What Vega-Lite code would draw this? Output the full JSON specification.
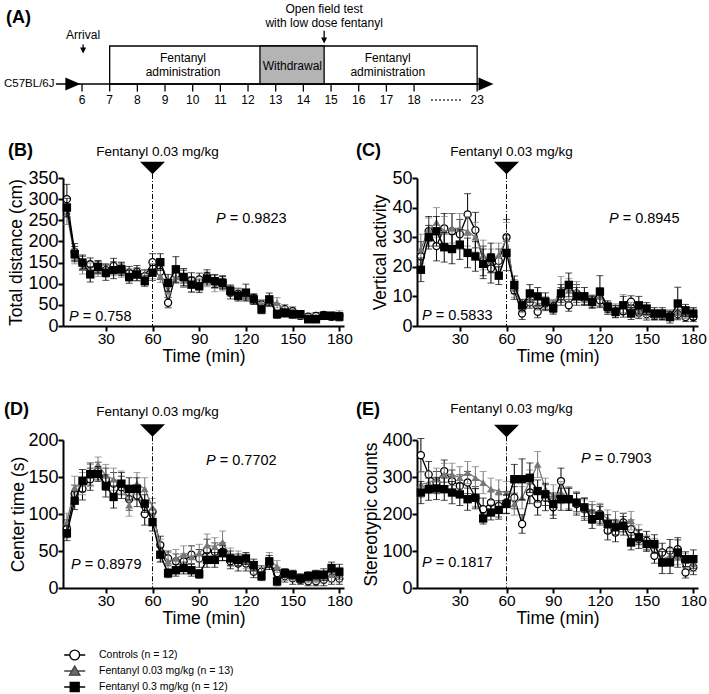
{
"$schema":"https://vega.github.io/schema/vega-lite/v6.json",
"background":"white",
"padding":{"left":3,"top":0,"right":0,"bottom":0},
"columns":2,
"spacing":{"row":114,"column":73},
"bounds":"flush",
"align":"each",
"config":{
"view":{"stroke":null},
"font":"Liberation Sans",
"axis":{"domainColor":"black","domainWidth":2,"tickColor":"black","tickWidth":2,"tickSize":5,"labelColor":"black","titleColor":"black","labelFont":"Liberation Sans","titleFont":"Liberation Sans","titleFontWeight":"normal","grid":false,"labelPadding":0,"labelFlush":false,"labelOverlap":false},
"axisX":{"labelFontSize":15.5,"titleFontSize":17.5,"titlePadding":1,"titleFontWeight":"normal"},
"axisY":{"labelFontSize":18,"titleFontSize":17.5,"titleFontWeight":"normal"},
"text":{"font":"Liberation Sans","color":"black"}
},
"datasets":{
"a":[
{"k":"box","x":7,"x2":20.28,"y":0,"y2":1},
{"k":"wd","x":12.43,"x2":14.75,"y":0,"y2":1},
{"k":"ln","x":5.06,"x2":20.5,"y":0,"y2":0},
{"k":"ln","x":6,"x2":6,"y":0,"y2":-0.2},
{"k":"ln","x":7,"x2":7,"y":0,"y2":-0.2},
{"k":"ln","x":8,"x2":8,"y":0,"y2":-0.2},
{"k":"ln","x":9,"x2":9,"y":0,"y2":-0.2},
{"k":"ln","x":10,"x2":10,"y":0,"y2":-0.2},
{"k":"ln","x":11,"x2":11,"y":0,"y2":-0.2},
{"k":"ln","x":12,"x2":12,"y":0,"y2":-0.2},
{"k":"ln","x":13,"x2":13,"y":0,"y2":-0.2},
{"k":"ln","x":14,"x2":14,"y":0,"y2":-0.2},
{"k":"ln","x":15,"x2":15,"y":0,"y2":-0.2},
{"k":"ln","x":16,"x2":16,"y":0,"y2":-0.2},
{"k":"ln","x":17,"x2":17,"y":0,"y2":-0.2},
{"k":"ln","x":18,"x2":18,"y":0,"y2":-0.2},
{"k":"ln","x":20.28,"x2":20.28,"y":0,"y2":-0.2},
{"k":"ln","x":6.04,"x2":6.04,"y":1.04,"y2":0.9},
{"k":"ln","x":14.75,"x2":14.75,"y":1.4,"y2":1.16},
{"k":"dt","x":18.62,"x2":19.7,"y":-0.421,"y2":-0.421},
{"k":"ah","x":6.04,"y":0.882},
{"k":"ah","x":14.75,"y":1.145},
{"k":"big","x":5.67,"y":0},
{"k":"big","x":20.6,"y":0},
{"k":"tc","x":6,"y":-0.421,"s":"6"},
{"k":"tc","x":7,"y":-0.421,"s":"7"},
{"k":"tc","x":8,"y":-0.421,"s":"8"},
{"k":"tc","x":9,"y":-0.421,"s":"9"},
{"k":"tc","x":10,"y":-0.421,"s":"10"},
{"k":"tc","x":11,"y":-0.421,"s":"11"},
{"k":"tc","x":12,"y":-0.421,"s":"12"},
{"k":"tc","x":13,"y":-0.421,"s":"13"},
{"k":"tc","x":14,"y":-0.421,"s":"14"},
{"k":"tc","x":15,"y":-0.421,"s":"15"},
{"k":"tc","x":16,"y":-0.421,"s":"16"},
{"k":"tc","x":17,"y":-0.421,"s":"17"},
{"k":"tc","x":18,"y":-0.421,"s":"18"},
{"k":"tc","x":20.28,"y":-0.421,"s":"23"},
{"k":"tc","x":6.04,"y":1.29,"s":"Arrival"},
{"k":"tc","x":14.75,"y":1.961,"s":"Open field test"},
{"k":"tc","x":14.75,"y":1.618,"s":"with low dose fentanyl"},
{"k":"tc","x":9.65,"y":0.684,"s":"Fentanyl"},
{"k":"tc","x":9.65,"y":0.316,"s":"administration"},
{"k":"tc","x":17.05,"y":0.684,"s":"Fentanyl"},
{"k":"tc","x":17.05,"y":0.316,"s":"administration"},
{"k":"tc","x":13.6,"y":0.474,"s":"Withdrawal"},
{"k":"tl","x":3.18,"y":0,"s":"C57BL/6J"},
{"k":"tb","x":3.253,"y":1.737,"s":"(A)"}
],
"ann":[
{"p":"B","k":"lbl","t":-32.8,"m":413.8,"s":"(B)"},
{"p":"B","k":"fen","t":60,"m":411,"s":"Fentanyl 0.03 mg/kg"},
{"p":"B","k":"tri","t":60,"m":373.6},
{"p":"B","k":"rule","t":60,"m":359.5,"m2":0},
{"p":"B","k":"p","t":100.8,"m":253,"s":"= 0.9823"},
{"p":"B","k":"p","t":6.35,"m":21.3,"s":"= 0.758"},
{"p":"C","k":"lbl","t":-36.7,"m":59.1,"s":"(C)"},
{"p":"C","k":"fen","t":60,"m":58.7,"s":"Fentanyl 0.03 mg/kg"},
{"p":"C","k":"tri","t":60,"m":53.38},
{"p":"C","k":"rule","t":60,"m":51.35,"m2":0},
{"p":"C","k":"p","t":125.8,"m":36.15,"s":"= 0.8945"},
{"p":"C","k":"p","t":5.7,"m":3.3,"s":"= 0.5833"},
{"p":"D","k":"lbl","t":-35.4,"m":239.9,"s":"(D)"},
{"p":"D","k":"fen","t":60,"m":237.4,"s":"Fentanyl 0.03 mg/kg"},
{"p":"D","k":"tri","t":60,"m":212.8},
{"p":"D","k":"rule","t":60,"m":205,"m2":0},
{"p":"D","k":"p","t":94.4,"m":171.2,"s":"= 0.7702"},
{"p":"D","k":"p","t":7.6,"m":31.5,"s":"= 0.8979"},
{"p":"E","k":"lbl","t":-36.7,"m":482.4,"s":"(E)"},
{"p":"E","k":"fen","t":60,"m":483.8,"s":"Fentanyl 0.03 mg/kg"},
{"p":"E","k":"tri","t":60,"m":424.3},
{"p":"E","k":"rule","t":60,"m":410,"m2":0},
{"p":"E","k":"p","t":107.8,"m":348.6,"s":"= 0.7903"},
{"p":"E","k":"p","t":5.7,"m":67.6,"s":"= 0.1817"}
],
"lg":[
{"g2":"Controls (n = 12)","t":100,"m":100},
{"g2":"Fentanyl 0.03 mg/kg (n = 13)","t":100,"m":100},
{"g2":"Fentanyl 0.3 mg/kg (n = 12)","t":100,"m":100}
],
"B":[
{"g":"c","t":5,"m":300,"e":35},{"g":"c","t":10,"m":175,"e":20},{"g":"c","t":15,"m":150,"e":18},{"g":"c","t":20,"m":146,"e":15},{"g":"c","t":25,"m":138,"e":15},{"g":"c","t":30,"m":132,"e":15},{"g":"c","t":35,"m":142,"e":18},{"g":"c","t":40,"m":136,"e":15},{"g":"c","t":45,"m":126,"e":15},{"g":"c","t":50,"m":128,"e":15},{"g":"c","t":55,"m":118,"e":15},{"g":"c","t":60,"m":151,"e":20},{"g":"c","t":65,"m":128,"e":18},{"g":"c","t":70,"m":55,"e":12},{"g":"c","t":75,"m":122,"e":20},{"g":"c","t":80,"m":112,"e":20},{"g":"c","t":85,"m":108,"e":18},{"g":"c","t":90,"m":110,"e":15},{"g":"c","t":95,"m":118,"e":15},{"g":"c","t":100,"m":106,"e":15},{"g":"c","t":105,"m":104,"e":15},{"g":"c","t":110,"m":79,"e":15},{"g":"c","t":115,"m":76,"e":12},{"g":"c","t":120,"m":74,"e":12},{"g":"c","t":125,"m":66,"e":10},{"g":"c","t":130,"m":51,"e":10},{"g":"c","t":135,"m":58,"e":12},{"g":"c","t":140,"m":43,"e":10},{"g":"c","t":145,"m":40,"e":10},{"g":"c","t":150,"m":35,"e":10},{"g":"c","t":155,"m":24,"e":8},{"g":"c","t":160,"m":22,"e":8},{"g":"c","t":165,"m":24,"e":8},{"g":"c","t":170,"m":26,"e":8},{"g":"c","t":175,"m":22,"e":8},{"g":"c","t":180,"m":24,"e":8},
{"g":"a","t":5,"m":265,"e":25},{"g":"a","t":10,"m":165,"e":18},{"g":"a","t":15,"m":138,"e":15},{"g":"a","t":20,"m":134,"e":15},{"g":"a","t":25,"m":132,"e":15},{"g":"a","t":30,"m":130,"e":15},{"g":"a","t":35,"m":134,"e":15},{"g":"a","t":40,"m":130,"e":15},{"g":"a","t":45,"m":120,"e":15},{"g":"a","t":50,"m":122,"e":15},{"g":"a","t":55,"m":116,"e":15},{"g":"a","t":60,"m":130,"e":18},{"g":"a","t":65,"m":118,"e":15},{"g":"a","t":70,"m":83,"e":15},{"g":"a","t":75,"m":116,"e":15},{"g":"a","t":80,"m":108,"e":15},{"g":"a","t":85,"m":96,"e":15},{"g":"a","t":90,"m":98,"e":15},{"g":"a","t":95,"m":108,"e":15},{"g":"a","t":100,"m":96,"e":15},{"g":"a","t":105,"m":98,"e":15},{"g":"a","t":110,"m":86,"e":12},{"g":"a","t":115,"m":78,"e":12},{"g":"a","t":120,"m":72,"e":12},{"g":"a","t":125,"m":62,"e":10},{"g":"a","t":130,"m":52,"e":10},{"g":"a","t":135,"m":56,"e":10},{"g":"a","t":140,"m":55,"e":12},{"g":"a","t":145,"m":36,"e":10},{"g":"a","t":150,"m":30,"e":8},{"g":"a","t":155,"m":26,"e":8},{"g":"a","t":160,"m":20,"e":8},{"g":"a","t":165,"m":20,"e":8},{"g":"a","t":170,"m":24,"e":8},{"g":"a","t":175,"m":26,"e":8},{"g":"a","t":180,"m":28,"e":8},
{"g":"s","t":5,"m":280,"e":22},{"g":"s","t":10,"m":170,"e":18},{"g":"s","t":15,"m":150,"e":15},{"g":"s","t":20,"m":122,"e":18},{"g":"s","t":25,"m":140,"e":15},{"g":"s","t":30,"m":126,"e":18},{"g":"s","t":35,"m":132,"e":20},{"g":"s","t":40,"m":134,"e":15},{"g":"s","t":45,"m":116,"e":15},{"g":"s","t":50,"m":122,"e":15},{"g":"s","t":55,"m":106,"e":12},{"g":"s","t":60,"m":126,"e":18},{"g":"s","t":65,"m":151,"e":20},{"g":"s","t":70,"m":102,"e":20},{"g":"s","t":75,"m":134,"e":30},{"g":"s","t":80,"m":116,"e":20},{"g":"s","t":85,"m":98,"e":18},{"g":"s","t":90,"m":94,"e":15},{"g":"s","t":95,"m":112,"e":15},{"g":"s","t":100,"m":106,"e":15},{"g":"s","t":105,"m":102,"e":15},{"g":"s","t":110,"m":83,"e":12},{"g":"s","t":115,"m":71,"e":12},{"g":"s","t":120,"m":79,"e":20},{"g":"s","t":125,"m":63,"e":12},{"g":"s","t":130,"m":39,"e":10},{"g":"s","t":135,"m":63,"e":15},{"g":"s","t":140,"m":28,"e":10},{"g":"s","t":145,"m":31,"e":10},{"g":"s","t":150,"m":28,"e":10},{"g":"s","t":155,"m":28,"e":8},{"g":"s","t":160,"m":16,"e":8},{"g":"s","t":165,"m":16,"e":8},{"g":"s","t":170,"m":24,"e":8},{"g":"s","t":175,"m":24,"e":8},{"g":"s","t":180,"m":22,"e":10}
],
"C":[
{"g":"c","t":5,"m":23.5,"e":5},{"g":"c","t":10,"m":32,"e":5},{"g":"c","t":15,"m":27,"e":5},{"g":"c","t":20,"m":33,"e":5},{"g":"c","t":25,"m":32,"e":6},{"g":"c","t":30,"m":31,"e":5},{"g":"c","t":35,"m":37.7,"e":7},{"g":"c","t":40,"m":32.4,"e":6},{"g":"c","t":45,"m":22,"e":5},{"g":"c","t":50,"m":19.5,"e":5},{"g":"c","t":55,"m":22,"e":4},{"g":"c","t":60,"m":30,"e":6},{"g":"c","t":65,"m":12,"e":3},{"g":"c","t":70,"m":4.2,"e":2},{"g":"c","t":75,"m":8,"e":2},{"g":"c","t":80,"m":4.8,"e":2},{"g":"c","t":85,"m":7.6,"e":2},{"g":"c","t":90,"m":6.5,"e":2},{"g":"c","t":95,"m":10,"e":3},{"g":"c","t":100,"m":7,"e":2},{"g":"c","t":105,"m":11,"e":3},{"g":"c","t":110,"m":9.3,"e":2},{"g":"c","t":115,"m":8,"e":2},{"g":"c","t":120,"m":8.7,"e":2},{"g":"c","t":125,"m":5.9,"e":2},{"g":"c","t":130,"m":5,"e":2},{"g":"c","t":135,"m":5,"e":2},{"g":"c","t":140,"m":8.2,"e":2},{"g":"c","t":145,"m":4.5,"e":2},{"g":"c","t":150,"m":4,"e":2},{"g":"c","t":155,"m":3.5,"e":1.5},{"g":"c","t":160,"m":3.5,"e":1.5},{"g":"c","t":165,"m":3.5,"e":1.5},{"g":"c","t":170,"m":4,"e":1.5},{"g":"c","t":175,"m":3,"e":1.5},{"g":"c","t":180,"m":3,"e":1.5},
{"g":"a","t":5,"m":26,"e":5},{"g":"a","t":10,"m":32.5,"e":4},{"g":"a","t":15,"m":35,"e":5},{"g":"a","t":20,"m":32,"e":5},{"g":"a","t":25,"m":33,"e":5},{"g":"a","t":30,"m":33,"e":5},{"g":"a","t":35,"m":32,"e":5},{"g":"a","t":40,"m":30,"e":5},{"g":"a","t":45,"m":24,"e":5},{"g":"a","t":50,"m":22,"e":4},{"g":"a","t":55,"m":24,"e":4},{"g":"a","t":60,"m":29.5,"e":5.5},{"g":"a","t":65,"m":12.7,"e":3},{"g":"a","t":70,"m":6.5,"e":2},{"g":"a","t":75,"m":9,"e":2},{"g":"a","t":80,"m":7.4,"e":2},{"g":"a","t":85,"m":8,"e":2},{"g":"a","t":90,"m":7,"e":2},{"g":"a","t":95,"m":12.7,"e":4},{"g":"a","t":100,"m":12,"e":4},{"g":"a","t":105,"m":12,"e":3},{"g":"a","t":110,"m":9,"e":2},{"g":"a","t":115,"m":8.5,"e":2},{"g":"a","t":120,"m":10,"e":3},{"g":"a","t":125,"m":6,"e":2},{"g":"a","t":130,"m":5.5,"e":2},{"g":"a","t":135,"m":7.6,"e":3},{"g":"a","t":140,"m":6,"e":2},{"g":"a","t":145,"m":5,"e":2},{"g":"a","t":150,"m":4.5,"e":2},{"g":"a","t":155,"m":4,"e":1.5},{"g":"a","t":160,"m":4,"e":1.5},{"g":"a","t":165,"m":4,"e":1.5},{"g":"a","t":170,"m":4.5,"e":2},{"g":"a","t":175,"m":4,"e":1.5},{"g":"a","t":180,"m":4.5,"e":1.5},
{"g":"s","t":5,"m":19,"e":4},{"g":"s","t":10,"m":30,"e":4},{"g":"s","t":15,"m":32,"e":5},{"g":"s","t":20,"m":26.6,"e":5},{"g":"s","t":25,"m":26,"e":5},{"g":"s","t":30,"m":27.5,"e":5},{"g":"s","t":35,"m":24.7,"e":5},{"g":"s","t":40,"m":23.5,"e":5},{"g":"s","t":45,"m":21,"e":5},{"g":"s","t":50,"m":23,"e":5},{"g":"s","t":55,"m":17,"e":3},{"g":"s","t":60,"m":24.7,"e":6},{"g":"s","t":65,"m":13.9,"e":3},{"g":"s","t":70,"m":7,"e":2},{"g":"s","t":75,"m":11,"e":3},{"g":"s","t":80,"m":10,"e":3},{"g":"s","t":85,"m":8.2,"e":3},{"g":"s","t":90,"m":6,"e":2},{"g":"s","t":95,"m":11,"e":3},{"g":"s","t":100,"m":13.9,"e":4},{"g":"s","t":105,"m":10,"e":3},{"g":"s","t":110,"m":10,"e":3},{"g":"s","t":115,"m":8.2,"e":2},{"g":"s","t":120,"m":11.6,"e":5.4},{"g":"s","t":125,"m":6.5,"e":2},{"g":"s","t":130,"m":4.8,"e":2},{"g":"s","t":135,"m":7,"e":3},{"g":"s","t":140,"m":4.2,"e":2},{"g":"s","t":145,"m":7,"e":3},{"g":"s","t":150,"m":5.9,"e":2},{"g":"s","t":155,"m":4.2,"e":2},{"g":"s","t":160,"m":4.2,"e":2},{"g":"s","t":165,"m":3,"e":2},{"g":"s","t":170,"m":7.6,"e":5.5},{"g":"s","t":175,"m":5.3,"e":2},{"g":"s","t":180,"m":4.2,"e":2}
],
"D":[
{"g":"c","t":5,"m":80,"e":12},{"g":"c","t":10,"m":127,"e":12},{"g":"c","t":15,"m":134,"e":15},{"g":"c","t":20,"m":147,"e":15},{"g":"c","t":25,"m":158,"e":12},{"g":"c","t":30,"m":147,"e":15},{"g":"c","t":35,"m":141,"e":15},{"g":"c","t":40,"m":136,"e":15},{"g":"c","t":45,"m":120,"e":15},{"g":"c","t":50,"m":125,"e":15},{"g":"c","t":55,"m":100,"e":15},{"g":"c","t":60,"m":103,"e":12},{"g":"c","t":65,"m":58,"e":12},{"g":"c","t":70,"m":40,"e":10},{"g":"c","t":75,"m":36,"e":10},{"g":"c","t":80,"m":36,"e":10},{"g":"c","t":85,"m":45,"e":12},{"g":"c","t":90,"m":40,"e":12},{"g":"c","t":95,"m":51,"e":15},{"g":"c","t":100,"m":49,"e":12},{"g":"c","t":105,"m":49,"e":12},{"g":"c","t":110,"m":36,"e":10},{"g":"c","t":115,"m":33,"e":10},{"g":"c","t":120,"m":33,"e":10},{"g":"c","t":125,"m":22,"e":8},{"g":"c","t":130,"m":22,"e":8},{"g":"c","t":135,"m":33,"e":8},{"g":"c","t":140,"m":20,"e":8},{"g":"c","t":145,"m":16,"e":8},{"g":"c","t":150,"m":13,"e":8},{"g":"c","t":155,"m":11,"e":6},{"g":"c","t":160,"m":9,"e":6},{"g":"c","t":165,"m":9,"e":6},{"g":"c","t":170,"m":11,"e":8},{"g":"c","t":175,"m":13,"e":8},{"g":"c","t":180,"m":13,"e":8},
{"g":"a","t":5,"m":89,"e":12},{"g":"a","t":10,"m":136,"e":15},{"g":"a","t":15,"m":141,"e":15},{"g":"a","t":20,"m":152,"e":15},{"g":"a","t":25,"m":167,"e":10},{"g":"a","t":30,"m":152,"e":15},{"g":"a","t":35,"m":147,"e":15},{"g":"a","t":40,"m":143,"e":15},{"g":"a","t":45,"m":112,"e":15},{"g":"a","t":50,"m":141,"e":15},{"g":"a","t":55,"m":134,"e":15},{"g":"a","t":60,"m":109,"e":12},{"g":"a","t":65,"m":51,"e":15},{"g":"a","t":70,"m":36,"e":12},{"g":"a","t":75,"m":40,"e":12},{"g":"a","t":80,"m":45,"e":12},{"g":"a","t":85,"m":42,"e":15},{"g":"a","t":90,"m":47,"e":12},{"g":"a","t":95,"m":58,"e":15},{"g":"a","t":100,"m":56,"e":12},{"g":"a","t":105,"m":62,"e":15},{"g":"a","t":110,"m":42,"e":12},{"g":"a","t":115,"m":40,"e":10},{"g":"a","t":120,"m":36,"e":10},{"g":"a","t":125,"m":27,"e":8},{"g":"a","t":130,"m":20,"e":8},{"g":"a","t":135,"m":38,"e":10},{"g":"a","t":140,"m":29,"e":8},{"g":"a","t":145,"m":18,"e":8},{"g":"a","t":150,"m":16,"e":6},{"g":"a","t":155,"m":13,"e":6},{"g":"a","t":160,"m":13,"e":6},{"g":"a","t":165,"m":13,"e":6},{"g":"a","t":170,"m":15,"e":8},{"g":"a","t":175,"m":18,"e":10},{"g":"a","t":180,"m":18,"e":10},
{"g":"s","t":5,"m":74,"e":10},{"g":"s","t":10,"m":118,"e":12},{"g":"s","t":15,"m":145,"e":15},{"g":"s","t":20,"m":154,"e":15},{"g":"s","t":25,"m":154,"e":10},{"g":"s","t":30,"m":138,"e":15},{"g":"s","t":35,"m":123,"e":15},{"g":"s","t":40,"m":141,"e":15},{"g":"s","t":45,"m":134,"e":15},{"g":"s","t":50,"m":134,"e":15},{"g":"s","t":55,"m":114,"e":12},{"g":"s","t":60,"m":89,"e":12},{"g":"s","t":65,"m":45,"e":10},{"g":"s","t":70,"m":20,"e":6},{"g":"s","t":75,"m":24,"e":8},{"g":"s","t":80,"m":27,"e":8},{"g":"s","t":85,"m":24,"e":8},{"g":"s","t":90,"m":19,"e":6},{"g":"s","t":95,"m":38,"e":10},{"g":"s","t":100,"m":38,"e":10},{"g":"s","t":105,"m":47,"e":10},{"g":"s","t":110,"m":40,"e":10},{"g":"s","t":115,"m":38,"e":8},{"g":"s","t":120,"m":40,"e":8},{"g":"s","t":125,"m":31,"e":8},{"g":"s","t":130,"m":16,"e":6},{"g":"s","t":135,"m":36,"e":8},{"g":"s","t":140,"m":9,"e":6},{"g":"s","t":145,"m":20,"e":6},{"g":"s","t":150,"m":18,"e":6},{"g":"s","t":155,"m":13,"e":6},{"g":"s","t":160,"m":16,"e":6},{"g":"s","t":165,"m":18,"e":6},{"g":"s","t":170,"m":18,"e":8},{"g":"s","t":175,"m":27,"e":8},{"g":"s","t":180,"m":22,"e":10}
],
"E":[
{"g":"c","t":5,"m":359,"e":45},{"g":"c","t":10,"m":307,"e":35},{"g":"c","t":15,"m":285,"e":30},{"g":"c","t":20,"m":316,"e":30},{"g":"c","t":25,"m":289,"e":30},{"g":"c","t":30,"m":276,"e":30},{"g":"c","t":35,"m":285,"e":30},{"g":"c","t":40,"m":244,"e":30},{"g":"c","t":45,"m":213,"e":30},{"g":"c","t":50,"m":231,"e":30},{"g":"c","t":55,"m":222,"e":30},{"g":"c","t":60,"m":231,"e":30},{"g":"c","t":65,"m":244,"e":30},{"g":"c","t":70,"m":173,"e":25},{"g":"c","t":75,"m":258,"e":30},{"g":"c","t":80,"m":227,"e":30},{"g":"c","t":85,"m":244,"e":35},{"g":"c","t":90,"m":218,"e":30},{"g":"c","t":95,"m":289,"e":35},{"g":"c","t":100,"m":240,"e":30},{"g":"c","t":105,"m":227,"e":30},{"g":"c","t":110,"m":213,"e":30},{"g":"c","t":115,"m":200,"e":25},{"g":"c","t":120,"m":200,"e":25},{"g":"c","t":125,"m":155,"e":25},{"g":"c","t":130,"m":150,"e":25},{"g":"c","t":135,"m":177,"e":25},{"g":"c","t":140,"m":159,"e":25},{"g":"c","t":145,"m":132,"e":25},{"g":"c","t":150,"m":128,"e":25},{"g":"c","t":155,"m":87,"e":20},{"g":"c","t":160,"m":96,"e":25},{"g":"c","t":165,"m":101,"e":30},{"g":"c","t":170,"m":105,"e":25},{"g":"c","t":175,"m":42,"e":15},{"g":"c","t":180,"m":56,"e":20},
{"g":"a","t":5,"m":280,"e":35},{"g":"a","t":10,"m":285,"e":30},{"g":"a","t":15,"m":294,"e":30},{"g":"a","t":20,"m":307,"e":30},{"g":"a","t":25,"m":307,"e":30},{"g":"a","t":30,"m":298,"e":30},{"g":"a","t":35,"m":312,"e":30},{"g":"a","t":40,"m":298,"e":30},{"g":"a","t":45,"m":285,"e":30},{"g":"a","t":50,"m":267,"e":30},{"g":"a","t":55,"m":262,"e":30},{"g":"a","t":60,"m":258,"e":30},{"g":"a","t":65,"m":227,"e":30},{"g":"a","t":70,"m":244,"e":30},{"g":"a","t":75,"m":289,"e":30},{"g":"a","t":80,"m":334,"e":35},{"g":"a","t":85,"m":267,"e":30},{"g":"a","t":90,"m":249,"e":30},{"g":"a","t":95,"m":258,"e":30},{"g":"a","t":100,"m":244,"e":30},{"g":"a","t":105,"m":231,"e":30},{"g":"a","t":110,"m":213,"e":25},{"g":"a","t":115,"m":209,"e":25},{"g":"a","t":120,"m":204,"e":25},{"g":"a","t":125,"m":186,"e":25},{"g":"a","t":130,"m":182,"e":25},{"g":"a","t":135,"m":177,"e":25},{"g":"a","t":140,"m":182,"e":25},{"g":"a","t":145,"m":146,"e":25},{"g":"a","t":150,"m":123,"e":20},{"g":"a","t":155,"m":114,"e":20},{"g":"a","t":160,"m":78,"e":20},{"g":"a","t":165,"m":87,"e":20},{"g":"a","t":170,"m":83,"e":20},{"g":"a","t":175,"m":74,"e":20},{"g":"a","t":180,"m":65,"e":20},
{"g":"s","t":5,"m":258,"e":30},{"g":"s","t":10,"m":267,"e":30},{"g":"s","t":15,"m":269,"e":30},{"g":"s","t":20,"m":267,"e":30},{"g":"s","t":25,"m":258,"e":30},{"g":"s","t":30,"m":253,"e":30},{"g":"s","t":35,"m":240,"e":30},{"g":"s","t":40,"m":244,"e":25},{"g":"s","t":45,"m":188,"e":15},{"g":"s","t":50,"m":204,"e":20},{"g":"s","t":55,"m":211,"e":25},{"g":"s","t":60,"m":227,"e":25},{"g":"s","t":65,"m":294,"e":40},{"g":"s","t":70,"m":294,"e":55},{"g":"s","t":75,"m":298,"e":40},{"g":"s","t":80,"m":262,"e":30},{"g":"s","t":85,"m":253,"e":30},{"g":"s","t":90,"m":227,"e":30},{"g":"s","t":95,"m":240,"e":30},{"g":"s","t":100,"m":240,"e":30},{"g":"s","t":105,"m":231,"e":25},{"g":"s","t":110,"m":218,"e":25},{"g":"s","t":115,"m":186,"e":25},{"g":"s","t":120,"m":195,"e":25},{"g":"s","t":125,"m":173,"e":25},{"g":"s","t":130,"m":164,"e":20},{"g":"s","t":135,"m":168,"e":25},{"g":"s","t":140,"m":123,"e":20},{"g":"s","t":145,"m":137,"e":20},{"g":"s","t":150,"m":119,"e":20},{"g":"s","t":155,"m":119,"e":25},{"g":"s","t":160,"m":69,"e":30},{"g":"s","t":165,"m":69,"e":30},{"g":"s","t":170,"m":96,"e":40},{"g":"s","t":175,"m":78,"e":20},{"g":"s","t":180,"m":78,"e":25}
]
},
"concat":[
{
"width":281,"height":61,
"encoding":{
"x":{"field":"x","type":"quantitative","scale":{"domain":[5.313,15.468],"nice":false,"zero":false},"axis":null},
"y":{"field":"y","type":"quantitative","scale":{"domain":[0.5263,2.1316],"nice":false,"zero":false},"axis":null}
},
"layer":[
{"data":{"name":"a"},"transform":[{"filter":"datum.k==='box'"}],"mark":{"type":"rect","fill":"white","stroke":"black","strokeWidth":1.3},"encoding":{"x2":{"field":"x2"},"y2":{"field":"y2"}}},
{"data":{"name":"a"},"transform":[{"filter":"datum.k==='wd'"}],"mark":{"type":"rect","fill":"#b4b4b4","stroke":"black","strokeWidth":1.3},"encoding":{"x2":{"field":"x2"},"y2":{"field":"y2"}}},
{"data":{"name":"a"},"transform":[{"filter":"datum.k==='ln'"}],"mark":{"type":"rule","color":"black","strokeWidth":1.3},"encoding":{"x2":{"field":"x2"},"y2":{"field":"y2"}}},
{"data":{"name":"a"},"transform":[{"filter":"datum.k==='dt'"}],"mark":{"type":"rule","color":"black","strokeWidth":1.3,"strokeDash":[1.5,2.5]},"encoding":{"x2":{"field":"x2"},"y2":{"field":"y2"}}},
{"data":{"name":"a"},"transform":[{"filter":"datum.k==='ah'"}],"mark":{"type":"point","shape":"M-1,-1L1,-1L0,1Z","filled":true,"color":"black","size":36,"opacity":1}},
{"data":{"name":"a"},"transform":[{"filter":"datum.k==='big'"}],"mark":{"type":"point","shape":"M-1,-0.87L1,0L-1,0.87Z","filled":true,"color":"black","size":225,"opacity":1}},
{"data":{"name":"a"},"transform":[{"filter":"datum.k==='tc'"}],"mark":{"type":"text","align":"center","baseline":"middle","fontSize":12,"color":"black"},"encoding":{"text":{"field":"s"}}},
{"data":{"name":"a"},"transform":[{"filter":"datum.k==='tl'"}],"mark":{"type":"text","align":"left","baseline":"middle","fontSize":11.5,"color":"black"},"encoding":{"text":{"field":"s"}}},
{"data":{"name":"a"},"transform":[{"filter":"datum.k==='tb'"}],"mark":{"type":"text","align":"left","baseline":"middle","fontSize":18,"fontWeight":"bold","color":"black"},"encoding":{"text":{"field":"s"}}}
]
},
{"width":1,"height":1,"data":{"values":[{"q":0}]},"mark":{"type":"point","opacity":0},"encoding":{}},
{
"width":281,"height":148,
"encoding":{
"x":{"field":"t","type":"quantitative","scale":{"domain":[2.5,183],"nice":false,"zero":false},"axis":{"values":[30,60,90,120,150,180],"title":"Time (min)"}},
"y":{"field":"m","type":"quantitative","scale":{"domain":[0,350],"nice":false},"axis":{"values":[0,50,100,150,200,250,300,350],"title":"Total distance (cm)","titlePadding":2.3}}
},
"layer":[
{"data":{"name":"B"},"transform":[{"filter":"datum.g==='c'"}],"mark":{"type":"errorbar","ticks":true,"size":7,"thickness":1,"color":"black"},"encoding":{"yError":{"field":"e"}}},
{"data":{"name":"B"},"transform":[{"filter":"datum.g==='c'"}],"mark":{"type":"line","color":"black","strokeWidth":1.3}},
{"data":{"name":"B"},"transform":[{"filter":"datum.g==='c'"}],"mark":{"type":"point","shape":"circle","filled":true,"fill":"white","stroke":"black","strokeWidth":1.3,"size":50,"opacity":1}},
{"data":{"name":"B"},"transform":[{"filter":"datum.g==='a'"}],"mark":{"type":"errorbar","ticks":true,"size":7,"thickness":1,"color":"#777777"},"encoding":{"yError":{"field":"e"}}},
{"data":{"name":"B"},"transform":[{"filter":"datum.g==='a'"}],"mark":{"type":"line","color":"#777777","strokeWidth":1.3}},
{"data":{"name":"B"},"transform":[{"filter":"datum.g==='a'"}],"mark":{"type":"point","shape":"triangle-up","filled":true,"color":"#777777","size":60,"opacity":1}},
{"data":{"name":"B"},"transform":[{"filter":"datum.g==='s'"}],"mark":{"type":"errorbar","ticks":true,"size":7,"thickness":1,"color":"black"},"encoding":{"yError":{"field":"e"}}},
{"data":{"name":"B"},"transform":[{"filter":"datum.g==='s'"}],"mark":{"type":"line","color":"black","strokeWidth":1.5}},
{"data":{"name":"B"},"transform":[{"filter":"datum.g==='s'"}],"mark":{"type":"point","shape":"square","filled":true,"color":"black","size":70,"opacity":1}},
{"data":{"name":"ann"},"transform":[{"filter":"datum.p==='B'&&datum.k==='rule'"}],"mark":{"type":"rule","color":"black","strokeWidth":1,"strokeDash":[5,2,1,2]},"encoding":{"y2":{"field":"m2"}}},
{"data":{"name":"ann"},"transform":[{"filter":"datum.p==='B'&&datum.k==='tri'"}],"mark":{"type":"point","shape":"M-1,-0.5L1,-0.5L0,0.5Z","filled":true,"color":"black","size":625,"opacity":1}},
{"data":{"name":"ann"},"transform":[{"filter":"datum.p==='B'&&datum.k==='lbl'"}],"mark":{"type":"text","align":"left","baseline":"middle","fontSize":18,"fontWeight":"bold","color":"black"},"encoding":{"text":{"field":"s"}}},
{"data":{"name":"ann"},"transform":[{"filter":"datum.p==='B'&&datum.k==='fen'"}],"mark":{"type":"text","align":"center","baseline":"middle","fontSize":13.5,"dx":5,"color":"black"},"encoding":{"text":{"field":"s"}}},
{"data":{"name":"ann"},"transform":[{"filter":"datum.p==='B'&&datum.k==='p'"}],"mark":{"type":"text","align":"left","baseline":"middle","fontSize":14.5,"fontStyle":"italic","color":"black"},"encoding":{"text":{"value":"P"}}},
{"data":{"name":"ann"},"transform":[{"filter":"datum.p==='B'&&datum.k==='p'"}],"mark":{"type":"text","align":"left","baseline":"middle","fontSize":14.5,"dx":13.7,"color":"black"},"encoding":{"text":{"field":"s"}}}
]
},
{
"width":281,"height":148,
"encoding":{
"x":{"field":"t","type":"quantitative","scale":{"domain":[2.5,183],"nice":false,"zero":false},"axis":{"values":[30,60,90,120,150,180],"title":"Time (min)"}},
"y":{"field":"m","type":"quantitative","scale":{"domain":[0,50],"nice":false},"axis":{"values":[0,10,20,30,40,50],"title":"Vertical activity","titlePadding":2.9}}
},
"layer":[
{"data":{"name":"C"},"transform":[{"filter":"datum.g==='c'"}],"mark":{"type":"errorbar","ticks":true,"size":7,"thickness":1,"color":"black"},"encoding":{"yError":{"field":"e"}}},
{"data":{"name":"C"},"transform":[{"filter":"datum.g==='c'"}],"mark":{"type":"line","color":"black","strokeWidth":1.3}},
{"data":{"name":"C"},"transform":[{"filter":"datum.g==='c'"}],"mark":{"type":"point","shape":"circle","filled":true,"fill":"white","stroke":"black","strokeWidth":1.3,"size":50,"opacity":1}},
{"data":{"name":"C"},"transform":[{"filter":"datum.g==='a'"}],"mark":{"type":"errorbar","ticks":true,"size":7,"thickness":1,"color":"#777777"},"encoding":{"yError":{"field":"e"}}},
{"data":{"name":"C"},"transform":[{"filter":"datum.g==='a'"}],"mark":{"type":"line","color":"#777777","strokeWidth":1.3}},
{"data":{"name":"C"},"transform":[{"filter":"datum.g==='a'"}],"mark":{"type":"point","shape":"triangle-up","filled":true,"color":"#777777","size":60,"opacity":1}},
{"data":{"name":"C"},"transform":[{"filter":"datum.g==='s'"}],"mark":{"type":"errorbar","ticks":true,"size":7,"thickness":1,"color":"black"},"encoding":{"yError":{"field":"e"}}},
{"data":{"name":"C"},"transform":[{"filter":"datum.g==='s'"}],"mark":{"type":"line","color":"black","strokeWidth":1.5}},
{"data":{"name":"C"},"transform":[{"filter":"datum.g==='s'"}],"mark":{"type":"point","shape":"square","filled":true,"color":"black","size":70,"opacity":1}},
{"data":{"name":"ann"},"transform":[{"filter":"datum.p==='C'&&datum.k==='rule'"}],"mark":{"type":"rule","color":"black","strokeWidth":1,"strokeDash":[5,2,1,2]},"encoding":{"y2":{"field":"m2"}}},
{"data":{"name":"ann"},"transform":[{"filter":"datum.p==='C'&&datum.k==='tri'"}],"mark":{"type":"point","shape":"M-1,-0.5L1,-0.5L0,0.5Z","filled":true,"color":"black","size":625,"opacity":1}},
{"data":{"name":"ann"},"transform":[{"filter":"datum.p==='C'&&datum.k==='lbl'"}],"mark":{"type":"text","align":"left","baseline":"middle","fontSize":18,"fontWeight":"bold","color":"black"},"encoding":{"text":{"field":"s"}}},
{"data":{"name":"ann"},"transform":[{"filter":"datum.p==='C'&&datum.k==='fen'"}],"mark":{"type":"text","align":"center","baseline":"middle","fontSize":13.5,"dx":5,"color":"black"},"encoding":{"text":{"field":"s"}}},
{"data":{"name":"ann"},"transform":[{"filter":"datum.p==='C'&&datum.k==='p'"}],"mark":{"type":"text","align":"left","baseline":"middle","fontSize":14.5,"fontStyle":"italic","color":"black"},"encoding":{"text":{"value":"P"}}},
{"data":{"name":"ann"},"transform":[{"filter":"datum.p==='C'&&datum.k==='p'"}],"mark":{"type":"text","align":"left","baseline":"middle","fontSize":14.5,"dx":13.7,"color":"black"},"encoding":{"text":{"field":"s"}}}
]
},
{
"width":281,"height":148,
"encoding":{
"x":{"field":"t","type":"quantitative","scale":{"domain":[2.5,183],"nice":false,"zero":false},"axis":{"values":[30,60,90,120,150,180],"title":"Time (min)"}},
"y":{"field":"m","type":"quantitative","scale":{"domain":[0,200],"nice":false},"axis":{"values":[0,50,100,150,200],"title":"Center time (s)","titlePadding":0}}
},
"layer":[
{"data":{"name":"D"},"transform":[{"filter":"datum.g==='c'"}],"mark":{"type":"errorbar","ticks":true,"size":7,"thickness":1,"color":"black"},"encoding":{"yError":{"field":"e"}}},
{"data":{"name":"D"},"transform":[{"filter":"datum.g==='c'"}],"mark":{"type":"line","color":"black","strokeWidth":1.3}},
{"data":{"name":"D"},"transform":[{"filter":"datum.g==='c'"}],"mark":{"type":"point","shape":"circle","filled":true,"fill":"white","stroke":"black","strokeWidth":1.3,"size":50,"opacity":1}},
{"data":{"name":"D"},"transform":[{"filter":"datum.g==='a'"}],"mark":{"type":"errorbar","ticks":true,"size":7,"thickness":1,"color":"#777777"},"encoding":{"yError":{"field":"e"}}},
{"data":{"name":"D"},"transform":[{"filter":"datum.g==='a'"}],"mark":{"type":"line","color":"#777777","strokeWidth":1.3}},
{"data":{"name":"D"},"transform":[{"filter":"datum.g==='a'"}],"mark":{"type":"point","shape":"triangle-up","filled":true,"color":"#777777","size":60,"opacity":1}},
{"data":{"name":"D"},"transform":[{"filter":"datum.g==='s'"}],"mark":{"type":"errorbar","ticks":true,"size":7,"thickness":1,"color":"black"},"encoding":{"yError":{"field":"e"}}},
{"data":{"name":"D"},"transform":[{"filter":"datum.g==='s'"}],"mark":{"type":"line","color":"black","strokeWidth":1.5}},
{"data":{"name":"D"},"transform":[{"filter":"datum.g==='s'"}],"mark":{"type":"point","shape":"square","filled":true,"color":"black","size":70,"opacity":1}},
{"data":{"name":"ann"},"transform":[{"filter":"datum.p==='D'&&datum.k==='rule'"}],"mark":{"type":"rule","color":"black","strokeWidth":1,"strokeDash":[5,2,1,2]},"encoding":{"y2":{"field":"m2"}}},
{"data":{"name":"ann"},"transform":[{"filter":"datum.p==='D'&&datum.k==='tri'"}],"mark":{"type":"point","shape":"M-1,-0.5L1,-0.5L0,0.5Z","filled":true,"color":"black","size":625,"opacity":1}},
{"data":{"name":"ann"},"transform":[{"filter":"datum.p==='D'&&datum.k==='lbl'"}],"mark":{"type":"text","align":"left","baseline":"middle","fontSize":18,"fontWeight":"bold","color":"black"},"encoding":{"text":{"field":"s"}}},
{"data":{"name":"ann"},"transform":[{"filter":"datum.p==='D'&&datum.k==='fen'"}],"mark":{"type":"text","align":"center","baseline":"middle","fontSize":13.5,"dx":5,"color":"black"},"encoding":{"text":{"field":"s"}}},
{"data":{"name":"ann"},"transform":[{"filter":"datum.p==='D'&&datum.k==='p'"}],"mark":{"type":"text","align":"left","baseline":"middle","fontSize":14.5,"fontStyle":"italic","color":"black"},"encoding":{"text":{"value":"P"}}},
{"data":{"name":"ann"},"transform":[{"filter":"datum.p==='D'&&datum.k==='p'"}],"mark":{"type":"text","align":"left","baseline":"middle","fontSize":14.5,"dx":13.7,"color":"black"},"encoding":{"text":{"field":"s"}}},
{"data":{"name":"lg"},"mark":{"type":"point","filled":true,"opacity":0},
"encoding":{
"shape":{"field":"g2","type":"nominal","scale":{"domain":["Controls (n = 12)","Fentanyl 0.03 mg/kg (n = 13)","Fentanyl 0.3 mg/kg (n = 12)"],"range":["M-1.4,0H-0.65M0.65,0H1.4M-0.65,0A0.65,0.65,0,1,1,0.65,0A0.65,0.65,0,1,1,-0.65,0Z","M-1.4,0H-0.38M0.38,0H1.4M-0.7,0.55L0,-0.65L0.7,0.55Z","M-1.4,0H1.4M-0.6,-0.6H0.6V0.6H-0.6Z"]},"legend":{"orient":"none","legendX":3.2,"legendY":643.5,"title":null,"symbolSize":225,"symbolStrokeWidth":1.3,"labelFont":"Liberation Sans","labelFontSize":10.5,"labelColor":"black","labelOffset":15.8,"rowPadding":-4,"padding":0,"symbolOpacity":1}},
"fill":{"field":"g2","type":"nominal","scale":{"domain":["Controls (n = 12)","Fentanyl 0.03 mg/kg (n = 13)","Fentanyl 0.3 mg/kg (n = 12)"],"range":["white","#6a6a6a","black"]},"legend":{"orient":"none","legendX":3.2,"legendY":643.5,"title":null,"symbolSize":225,"symbolStrokeWidth":1.3,"labelFont":"Liberation Sans","labelFontSize":10.5,"labelColor":"black","labelOffset":15.8,"rowPadding":-4,"padding":0,"symbolOpacity":1}},
"stroke":{"field":"g2","type":"nominal","scale":{"domain":["Controls (n = 12)","Fentanyl 0.03 mg/kg (n = 13)","Fentanyl 0.3 mg/kg (n = 12)"],"range":["black","#404040","black"]},"legend":{"orient":"none","legendX":3.2,"legendY":643.5,"title":null,"symbolSize":225,"symbolStrokeWidth":1.3,"labelFont":"Liberation Sans","labelFontSize":10.5,"labelColor":"black","labelOffset":15.8,"rowPadding":-4,"padding":0,"symbolOpacity":1}}
}}
]
},
{
"width":281,"height":148,
"encoding":{
"x":{"field":"t","type":"quantitative","scale":{"domain":[2.5,183],"nice":false,"zero":false},"axis":{"values":[30,60,90,120,150,180],"title":"Time (min)"}},
"y":{"field":"m","type":"quantitative","scale":{"domain":[0,400],"nice":false},"axis":{"values":[0,100,200,300,400],"title":"Stereotypic counts","titlePadding":1.6}}
},
"layer":[
{"data":{"name":"E"},"transform":[{"filter":"datum.g==='c'"}],"mark":{"type":"errorbar","ticks":true,"size":7,"thickness":1,"color":"black"},"encoding":{"yError":{"field":"e"}}},
{"data":{"name":"E"},"transform":[{"filter":"datum.g==='c'"}],"mark":{"type":"line","color":"black","strokeWidth":1.3}},
{"data":{"name":"E"},"transform":[{"filter":"datum.g==='c'"}],"mark":{"type":"point","shape":"circle","filled":true,"fill":"white","stroke":"black","strokeWidth":1.3,"size":50,"opacity":1}},
{"data":{"name":"E"},"transform":[{"filter":"datum.g==='a'"}],"mark":{"type":"errorbar","ticks":true,"size":7,"thickness":1,"color":"#777777"},"encoding":{"yError":{"field":"e"}}},
{"data":{"name":"E"},"transform":[{"filter":"datum.g==='a'"}],"mark":{"type":"line","color":"#777777","strokeWidth":1.3}},
{"data":{"name":"E"},"transform":[{"filter":"datum.g==='a'"}],"mark":{"type":"point","shape":"triangle-up","filled":true,"color":"#777777","size":60,"opacity":1}},
{"data":{"name":"E"},"transform":[{"filter":"datum.g==='s'"}],"mark":{"type":"errorbar","ticks":true,"size":7,"thickness":1,"color":"black"},"encoding":{"yError":{"field":"e"}}},
{"data":{"name":"E"},"transform":[{"filter":"datum.g==='s'"}],"mark":{"type":"line","color":"black","strokeWidth":1.5}},
{"data":{"name":"E"},"transform":[{"filter":"datum.g==='s'"}],"mark":{"type":"point","shape":"square","filled":true,"color":"black","size":70,"opacity":1}},
{"data":{"name":"ann"},"transform":[{"filter":"datum.p==='E'&&datum.k==='rule'"}],"mark":{"type":"rule","color":"black","strokeWidth":1,"strokeDash":[5,2,1,2]},"encoding":{"y2":{"field":"m2"}}},
{"data":{"name":"ann"},"transform":[{"filter":"datum.p==='E'&&datum.k==='tri'"}],"mark":{"type":"point","shape":"M-1,-0.5L1,-0.5L0,0.5Z","filled":true,"color":"black","size":625,"opacity":1}},
{"data":{"name":"ann"},"transform":[{"filter":"datum.p==='E'&&datum.k==='lbl'"}],"mark":{"type":"text","align":"left","baseline":"middle","fontSize":18,"fontWeight":"bold","color":"black"},"encoding":{"text":{"field":"s"}}},
{"data":{"name":"ann"},"transform":[{"filter":"datum.p==='E'&&datum.k==='fen'"}],"mark":{"type":"text","align":"center","baseline":"middle","fontSize":13.5,"dx":5,"color":"black"},"encoding":{"text":{"field":"s"}}},
{"data":{"name":"ann"},"transform":[{"filter":"datum.p==='E'&&datum.k==='p'"}],"mark":{"type":"text","align":"left","baseline":"middle","fontSize":14.5,"fontStyle":"italic","color":"black"},"encoding":{"text":{"value":"P"}}},
{"data":{"name":"ann"},"transform":[{"filter":"datum.p==='E'&&datum.k==='p'"}],"mark":{"type":"text","align":"left","baseline":"middle","fontSize":14.5,"dx":13.7,"color":"black"},"encoding":{"text":{"field":"s"}}}
]
}
]
}
